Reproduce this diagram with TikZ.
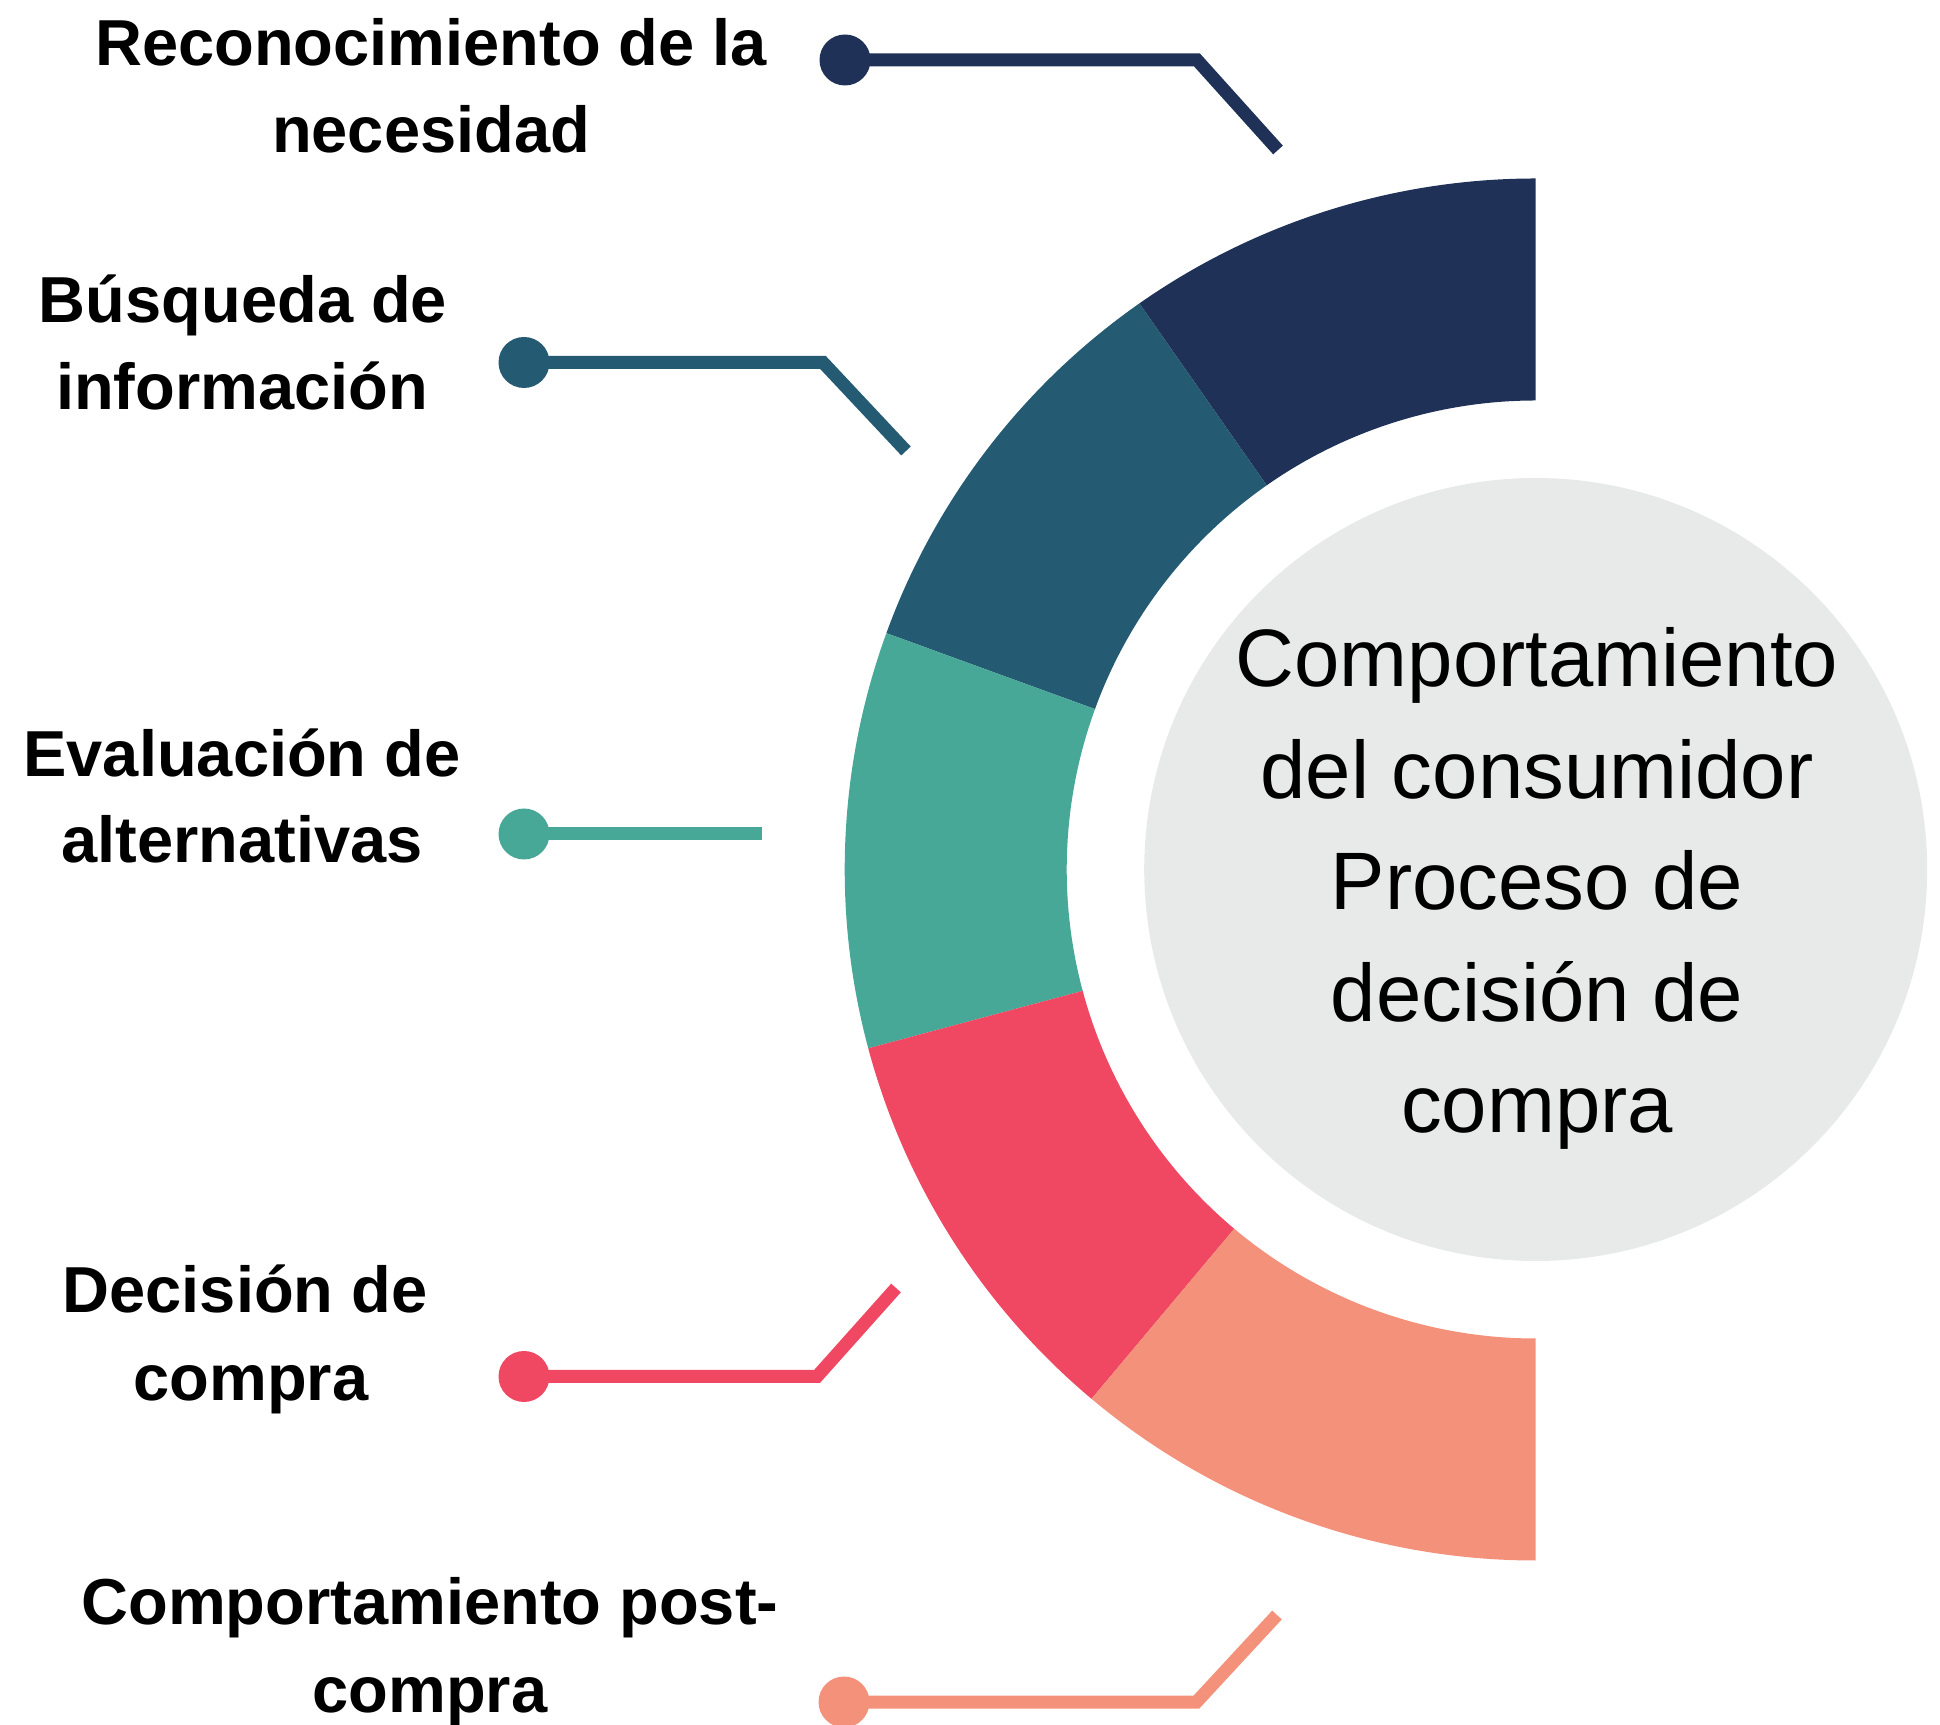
\documentclass[tikz,border=0pt]{standalone}
\usepackage{fontspec}
\setmainfont{Liberation Sans}
\definecolor{cnavy}{HTML}{1F3157}
\definecolor{cteal}{HTML}{245A72}
\definecolor{cgreen}{HTML}{48A897}
\definecolor{cred}{HTML}{F04763}
\definecolor{csalmon}{HTML}{F4917A}
\definecolor{cgray}{HTML}{E8EAE9}
\tikzset{
  knob/.style={circle, inner sep=0pt, minimum size=51pt},
  conn/.style={line width=13pt, line join=miter},
  lab/.style={anchor=base, inner sep=0pt, font=\fontsize{65}{78}\selectfont\bfseries, text=black},
  ctr/.style={anchor=base, inner sep=0pt, font=\fontsize{81.5}{100}\selectfont, text=black},
}
\begin{document}
\begin{tikzpicture}[x=1pt,y=1pt]
\useasboundingbox (0,0) rectangle (1940,1724);
\coordinate (O) at (1535.7,854.5);
% ring segments
\fill[cnavy]   ([shift={(90:691)}]O)  arc[start angle=90,  end angle=125, radius=691] -- ([shift={(125:469)}]O) arc[start angle=125, end angle=90,  radius=469] -- cycle;
\fill[cteal]   ([shift={(125:691)}]O) arc[start angle=125, end angle=160, radius=691] -- ([shift={(160:469)}]O) arc[start angle=160, end angle=125, radius=469] -- cycle;
\fill[cgreen]  ([shift={(160:691)}]O) arc[start angle=160, end angle=195, radius=691] -- ([shift={(195:469)}]O) arc[start angle=195, end angle=160, radius=469] -- cycle;
\fill[cred]    ([shift={(195:691)}]O) arc[start angle=195, end angle=230, radius=691] -- ([shift={(230:469)}]O) arc[start angle=230, end angle=195, radius=469] -- cycle;
\fill[csalmon] ([shift={(230:691)}]O) arc[start angle=230, end angle=270, radius=691] -- ([shift={(270:469)}]O) arc[start angle=270, end angle=230, radius=469] -- cycle;
% central circle
\node[circle, fill=cgray, minimum size=783pt, inner sep=0pt] (hub) at (O) {};
\node[ctr] (h1) at (1537,1037) {Comportamiento};
\node[ctr] (h2) at (1537,925.5) {del consumidor};
\node[ctr] (h3) at (1537,814) {Proceso de};
\node[ctr] (h4) at (1537,702.5) {decisión de};
\node[ctr] (h5) at (1537,591) {compra};
% connectors
\coordinate (c1) at (1197,1664); \coordinate (e1) at (1278,1574);
\coordinate (c2) at (823,1361.5); \coordinate (e2) at (906,1273);
\coordinate (e3) at (762,890);
\coordinate (c4) at (817,347.5); \coordinate (e4) at (896,436);
\coordinate (c5) at (1196.5,22); \coordinate (e5) at (1277,109);
\node[knob, fill=cnavy]   (k1) at (845,1664) {};
\node[knob, fill=cteal]   (k2) at (524,1361.5) {};
\node[knob, fill=cgreen]  (k3) at (524,890) {};
\node[knob, fill=cred]    (k4) at (524,347.5) {};
\node[knob, fill=csalmon] (k5) at (844,22) {};
\draw[conn, cnavy]   (k1.center) -- (c1) -- (e1);
\draw[conn, cteal]   (k2.center) -- (c2) -- (e2);
\draw[conn, cgreen]  (k3.center) -- (e3);
\draw[conn, cred]    (k4.center) -- (c4) -- (e4);
\draw[conn, csalmon] (k5.center) -- (c5) -- (e5);
% labels
\node[lab] (t1a) at (431,1658) {Reconocimiento de la};
\node[lab] (t1b) at (431,1571) {necesidad};
\node[lab] (t2a) at (243,1401) {Búsqueda de};
\node[lab] (t2b) at (242,1314) {información};
\node[lab] (t3a) at (242,947) {Evaluación de};
\node[lab] (t3b) at (242,861) {alternativas};
\node[lab] (t4a) at (245,411) {Decisión de};
\node[lab] (t4b) at (251,323) {compra};
\node[lab] (t5a) at (430,100) {Comportamiento post-};
\node[lab] (t5b) at (430,12) {compra};
\end{tikzpicture}
\end{document}
